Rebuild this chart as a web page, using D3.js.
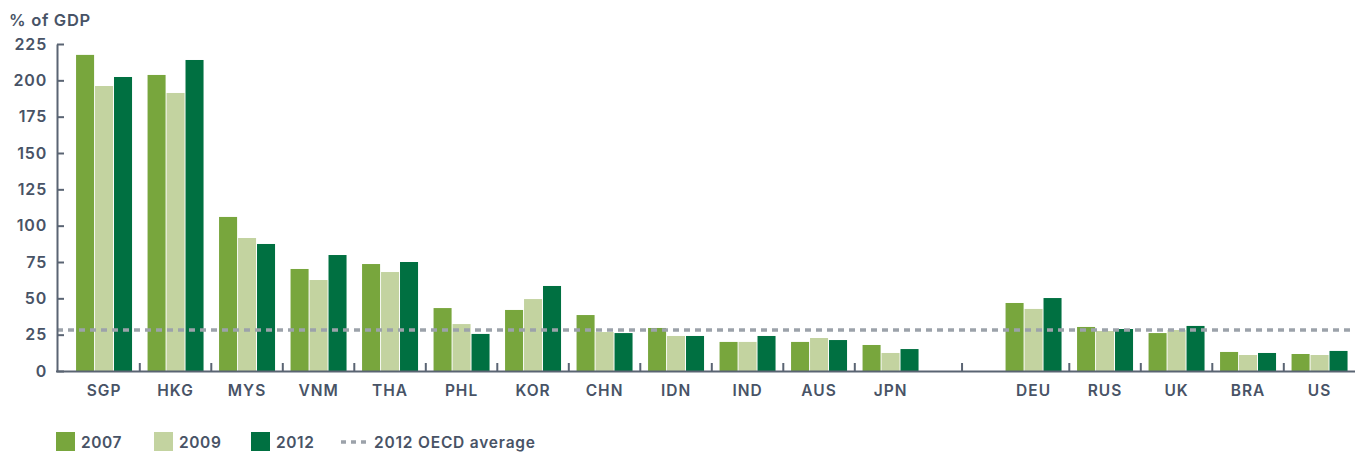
<!DOCTYPE html>
<html>
<head>
<meta charset="utf-8">
<script src="https://cdn.jsdelivr.net/npm/d3@7"></script>
<style>
  html, body { margin: 0; padding: 0; background: #fff; }
  svg { display: block; }
  text { font-family: "Inter", "DejaVu Sans", sans-serif; font-weight: 600; fill: #485366; }
</style>
</head>
<body>
<svg id="chart" width="1362" height="454"></svg>
<script>
const categories = ["SGP","HKG","MYS","VNM","THA","PHL","KOR","CHN","IDN","IND","AUS","JPN","","DEU","RUS","UK","BRA","US"];
const seriesNames = ["2007","2009","2012"];
const values2007 = [217.5,203.7,106,70.2,73.6,43.3,42,38.5,29.6,20,20,17.9,null,46.8,30.3,26.1,13.1,11.7];
const values2009 = [196.1,191.3,91.5,62.6,68.1,32.3,49.5,26.8,24.1,20,22.7,12.4,null,42.7,27.5,28.2,11,11];
const values2012 = [202.3,214,87.4,79.8,75,25.5,58.5,26.1,24.1,24.1,21.3,15.1,null,50.2,28.9,31,12.4,13.8];
const oecdAverage = 28.2;
const yTicks = [0,25,50,75,100,125,150,175,200,225];
const yLabel = "% of GDP";
const legendLineLabel = "2012 OECD average";

const colors = ["#78a63d", "#c3d3a0", "#007041"];
const seriesValues = [values2007, values2009, values2012];

const svg = d3.select("#chart");
const axisX0 = 57, axisX1 = 1355;

const y = d3.scaleLinear().domain([0, 225]).range([371, 44]);
const x0 = d3.scaleBand().domain(categories).range([68.3, 1355.3]).paddingInner(0.217).paddingOuter(0.1085);
const x1 = d3.scaleBand().domain(seriesNames).range([0, x0.bandwidth()]).paddingInner(0.05);

// bars
categories.forEach((c, i) => {
  if (!c) return;
  const g = svg.append("g").attr("transform", `translate(${x0(c)},0)`);
  seriesNames.forEach((s, j) => {
    const v = seriesValues[j][i];
    g.append("rect")
      .attr("x", x1(s))
      .attr("width", x1.bandwidth())
      .attr("y", y(v))
      .attr("height", y(0) - y(v))
      .attr("fill", colors[j]);
  });
});

// OECD average line
svg.append("line")
  .attr("x1", axisX0).attr("x2", axisX1)
  .attr("y1", y(oecdAverage)).attr("y2", y(oecdAverage))
  .attr("stroke", "#9ca2aa").attr("stroke-width", 3.5)
  .attr("stroke-dasharray", "6,5");

// y axis
const yAxis = d3.axisLeft(y).tickValues(yTicks).tickSizeInner(-7).tickSizeOuter(0).tickPadding(10);
const yg = svg.append("g").attr("transform", `translate(${axisX0},0)`).call(yAxis);
yg.select(".domain").attr("stroke", "#5a6473").attr("stroke-width", 2);
yg.selectAll(".tick line").attr("stroke", "#5a6473").attr("stroke-width", 2);
yg.selectAll(".tick text").attr("font-size", 16).attr("fill", "#485366")
  .style("font-family", "Inter, 'DejaVu Sans', sans-serif").style("font-weight", 600)
  .style("letter-spacing", "0.8px");

// x axis line
svg.append("line")
  .attr("x1", axisX0 - 1).attr("x2", axisX1)
  .attr("y1", y(0) + 0.5).attr("y2", y(0) + 0.5)
  .attr("stroke", "#5a6473").attr("stroke-width", 2);

// x ticks
const step = x0.step();
const tickXs = [];
categories.forEach((c, i) => {
  if (!c) { tickXs.push(x0(c) + x0.bandwidth() / 2); return; }
  if (i > 0 && categories[i - 1]) tickXs.push(x0(c) - step * x0.paddingInner() / 2);
});
svg.selectAll(".xtick").data(tickXs).enter().append("line")
  .attr("x1", d => d).attr("x2", d => d)
  .attr("y1", y(0) - 8).attr("y2", y(0))
  .attr("stroke", "#5a6473").attr("stroke-width", 2);

// x labels
svg.selectAll(".xlabel").data(categories.filter(c => c)).enter().append("text")
  .attr("x", c => x0(c) + x0.bandwidth() / 2)
  .attr("y", 396)
  .attr("text-anchor", "middle")
  .attr("font-size", 15.5)
  .style("letter-spacing", "1px")
  .text(c => c);

// y label
svg.append("text").attr("x", 9).attr("y", 26).attr("font-size", 16.5)
  .style("letter-spacing", "0.7px").text(yLabel);

// legend
const legendXs = [56, 154, 251];
seriesNames.forEach((s, j) => {
  svg.append("rect").attr("x", legendXs[j]).attr("y", 432).attr("width", 19).attr("height", 19).attr("fill", colors[j]);
  svg.append("text").attr("x", legendXs[j] + 25).attr("y", 448).attr("font-size", 15.5)
    .style("letter-spacing", "0.6px").text(s);
});
svg.append("line").attr("x1", 341).attr("x2", 368).attr("y1", 442).attr("y2", 442)
  .attr("stroke", "#9ca2aa").attr("stroke-width", 3.5).attr("stroke-dasharray", "5,5");
svg.append("text").attr("x", 374).attr("y", 448).attr("font-size", 15.5)
  .style("letter-spacing", "0.8px").text(legendLineLabel);
</script>
</body>
</html>
